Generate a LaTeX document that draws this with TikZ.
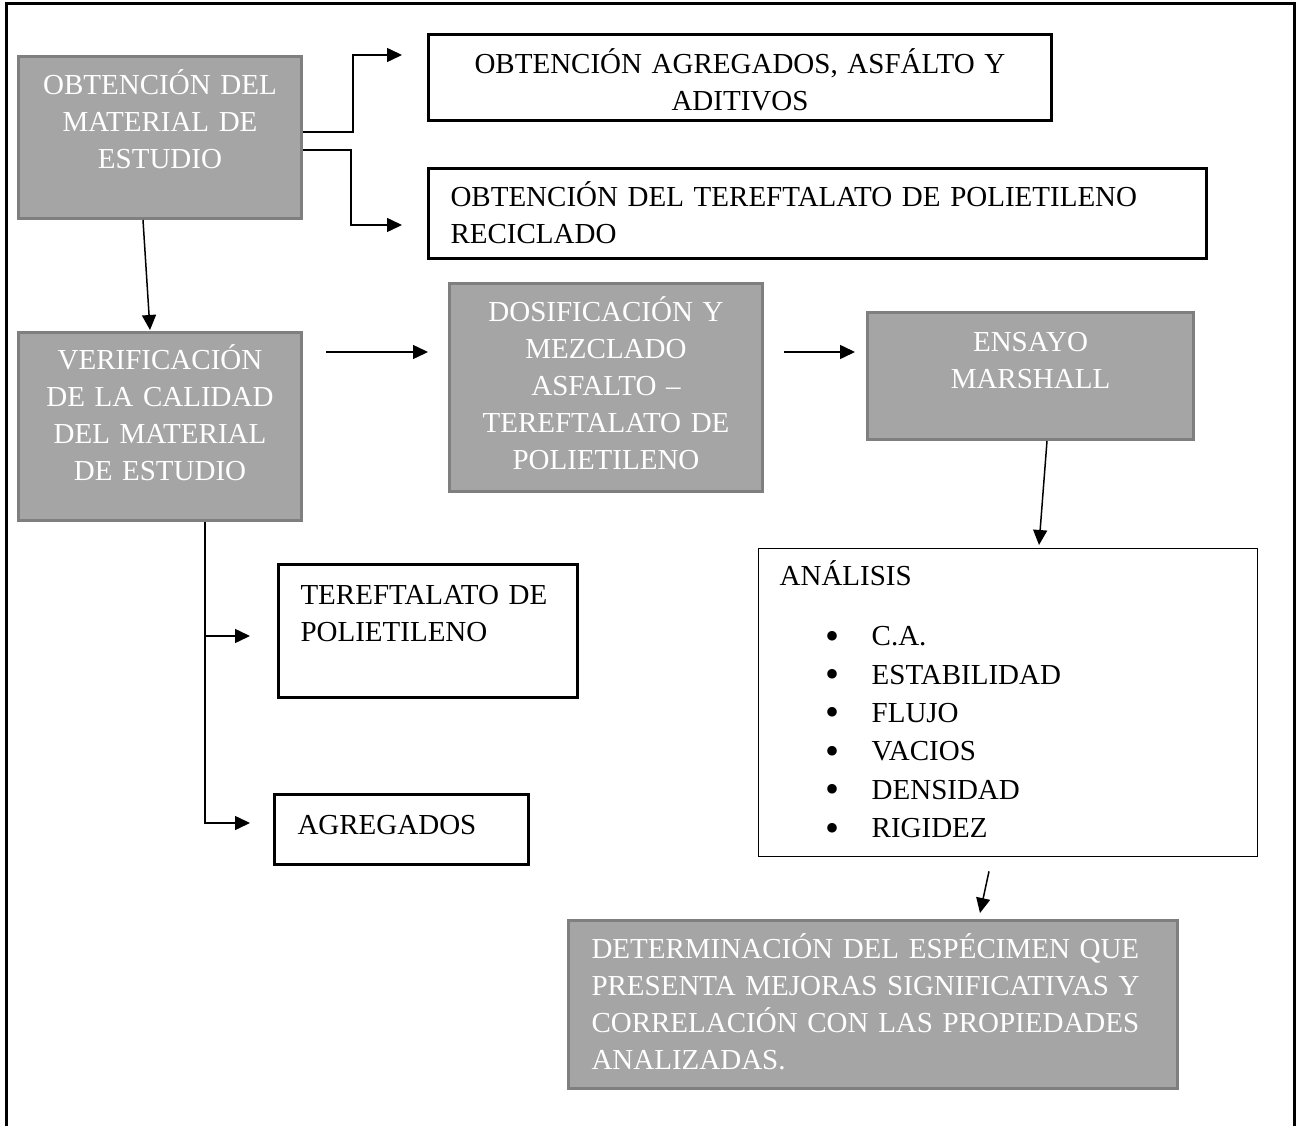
\documentclass[tikz,border=0pt]{standalone}
\usepackage{fontspec}
\setmainfont{Liberation Serif}
\usetikzlibrary{arrows.meta}
\definecolor{boxgray}{HTML}{A5A5A5}
\definecolor{edgegray}{HTML}{7F7F7F}
\newcommand{\itembul}{\hspace*{46pt}\makebox[46pt][l]{\raisebox{-3.5pt}{\fontsize{40}{37}\selectfont •}}}
\begin{document}
\begin{tikzpicture}[x=1pt, y=-1pt, font=\fontsize{29}{37}\selectfont,
  arr/.style = {-{Triangle[length=15pt,width=14pt]}, line width=1.5pt},
  gbox/.style = {anchor=north west, inner sep=0pt, fill=boxgray, draw=edgegray, line width=3pt, text=white, align=center},
  wbox/.style = {anchor=north west, inner ysep=0pt, draw=black, line width=3pt, align=left}]
\useasboundingbox (0,0) rectangle (1296,1126);
\draw[line width=3pt] (6,1126) -- (6,4) -- (1294,4) -- (1294,1126);
% gray boxes
\node[gbox, text width=283pt, text height=38pt, text depth=124pt] (obt) at (17,55) {OBTENCIÓN DEL\\ MATERIAL DE\\ ESTUDIO};
\node[gbox, text width=283pt, text height=36.5pt, text depth=151.5pt] (verif) at (17,331) {VERIFICACIÓN\\ DE LA CALIDAD\\ DEL MATERIAL\\ DE ESTUDIO};
\node[gbox, text width=313pt, text height=37.5pt, text depth=170.5pt] (dosif) at (448,282) {DOSIFICACIÓN Y\\ MEZCLADO\\ ASFALTO –\\ TEREFTALATO DE\\ POLIETILENO};
\node[gbox, text width=326pt, text height=38.5pt, text depth=88.5pt] (ensayo) at (866,311) {ENSAYO\\ MARSHALL};
\node[gbox, align=left, inner xsep=23pt, text width=563pt, text height=37.5pt, text depth=130.5pt] (determ) at (567,919) {DETERMINACIÓN DEL ESPÉCIMEN QUE\\ PRESENTA MEJORAS SIGNIFICATIVAS Y\\ CORRELACIÓN CON LAS PROPIEDADES\\ ANALIZADAS.};
% white boxes
\node[wbox, align=center, inner xsep=0pt, text width=623pt, text height=39pt, text depth=47pt] (agreg) at (427,33) {OBTENCIÓN AGREGADOS, ASFÁLTO Y\\ ADITIVOS};
\node[wbox, inner xsep=22pt, text width=734pt, text height=38.5pt, text depth=51.5pt] (pet) at (427,167) {OBTENCIÓN DEL TEREFTALATO DE POLIETILENO\\ RECICLADO};
\node[wbox, inner xsep=22pt, text width=255pt, text height=39.5pt, text depth=93.5pt] (tpet) at (277,563) {TEREFTALATO DE\\ POLIETILENO};
\node[wbox, inner xsep=23pt, text width=208pt, text height=39.5pt, text depth=30.5pt] (agregados) at (273,793) {AGREGADOS};
\node[wbox, line width=1.3pt, inner xsep=21pt, text width=457pt, text height=37pt, text depth=271pt] (analisis) at (758,548) {ANÁLISIS\\[23pt]
  \itembul C.A.\\[1.4pt]
  \itembul ESTABILIDAD\\[1.4pt]
  \itembul FLUJO\\[1.4pt]
  \itembul VACIOS\\[1.4pt]
  \itembul DENSIDAD\\[1.4pt]
  \itembul RIGIDEZ};
% connectors
\draw[arr] ([yshift=-77pt]obt.north east) -- ++(50,0) |- ([xshift=-25pt,yshift=-22pt]agreg.north west);
\draw[arr] ([yshift=-95pt]obt.north east) -- ++(48,0) |- ([xshift=-25pt,yshift=-58pt]pet.north west);
\draw[arr] ([xshift=126pt]obt.south west) -- ([xshift=133pt,yshift=1pt]verif.north west);
\draw[arr] ([xshift=23pt,yshift=-21pt]verif.north east) -- ([xshift=-20pt,yshift=-70pt]dosif.north west);
\draw[arr] ([xshift=20pt,yshift=-70pt]dosif.north east) -- ([xshift=-11pt,yshift=-41pt]ensayo.north west);
\draw[arr] ([xshift=181pt]ensayo.south west) -- ([xshift=281pt,yshift=3pt]analisis.north west);
\draw[arr] ([xshift=231pt,yshift=-14pt]analisis.south west) -- ([xshift=413pt,yshift=6pt]determ.north west);
\draw[arr] ([xshift=188pt]verif.south west) |- ([xshift=-27pt,yshift=-73pt]tpet.north west);
\draw[arr] ([xshift=188pt]verif.south west) |- ([xshift=-23pt,yshift=-30pt]agregados.north west);
\end{tikzpicture}
\end{document}
